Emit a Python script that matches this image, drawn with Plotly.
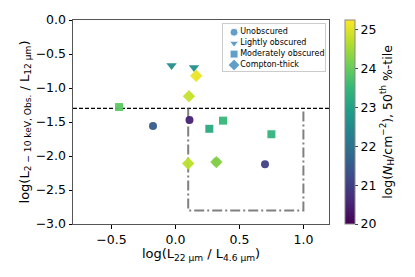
import plotly.graph_objects as go

# ---- data ----
unob_x = [-0.175, 0.11, 0.70, 0.32]
unob_y = [-1.56, -1.47, -2.12, -2.09]
unob_nh = [21.5, 20.5, 21.0, 21.5]

light_x = [-0.03, 0.145]
light_y = [-0.67, -0.70]
light_nh = [22.6, 22.6]

mod_x = [-0.44, 0.265, 0.372, 0.75]
mod_y = [-1.28, -1.60, -1.48, -1.68]
mod_nh = [23.9, 23.2, 23.5, 23.4]

ct_x = [0.163, 0.106, 0.10, 0.32]
ct_y = [-0.82, -1.12, -2.11, -2.09]
ct_nh = [25.1, 24.8, 24.7, 24.3]

hline_x = [-0.8, 1.2]
hline_y = [-1.3, -1.3]
box_x = [0.1, 0.1, 1.0, 1.0]
box_y = [-1.3, -2.8, -2.8, -1.3]

x_ticks = [-0.5, 0.0, 0.5, 1.0]
y_ticks = [0.0, -0.5, -1.0, -1.5, -2.0, -2.5, -3.0]
cb_ticks = [20, 21, 22, 23, 24, 25]
cmin, cmax = 20, 25.25

legend_names = ["Unobscured", "Lightly obscured", "Moderately obscured", "Compton-thick"]
legend_symbols = ["circle", "triangle-down", "square", "diamond"]

font = "DejaVu Sans"
fig = go.Figure()

fig.add_trace(go.Scatter(x=hline_x, y=hline_y, mode="lines",
                         line=dict(color="black", dash="4px,2px", width=1.3),
                         showlegend=False, hoverinfo="skip"))
fig.add_trace(go.Scatter(x=box_x, y=box_y, mode="lines",
                         line=dict(color="gray", dash="10px,3px,2px,3px", width=2),
                         showlegend=False, hoverinfo="skip"))

def add_group(xs, ys, cs, symbol, size, show_cb=False):
    marker = dict(symbol=symbol, size=size, color=cs, colorscale="Viridis",
                  cmin=cmin, cmax=cmax, opacity=0.95, line=dict(width=0))
    if show_cb:
        marker["colorbar"] = dict(
            x=1.063, xanchor="left", xpad=0, ypad=0,
            y=0, yanchor="bottom", len=1, lenmode="fraction",
            thickness=10, outlinewidth=1, outlinecolor="#888",
            tickvals=cb_ticks, ticks="outside", ticklen=3,
            tickfont=dict(family=font, size=12.5, color="black"),
            title=dict(text="log(<i>N</i><sub>H</sub>/cm<sup>−2</sup>), 50<sup>th</sup> %-tile",
                       side="right", font=dict(family=font, size=12.5, color="black")))
        marker["showscale"] = True
    fig.add_trace(go.Scatter(x=xs, y=ys, mode="markers", marker=marker,
                             showlegend=False))

add_group(unob_x, unob_y, unob_nh, "circle", 8)
add_group(light_x, light_y, light_nh, "triangle-down", 9)
add_group(mod_x, mod_y, mod_nh, "square", 8)
add_group(ct_x, ct_y, ct_nh, "diamond", 9.5, show_cb=True)

# custom compact legend on an overlay axis
n = len(legend_names)
leg_y = [i + 0.5 for i in range(n)]
fig.add_trace(go.Scatter(x=[0.11] * n, y=leg_y, mode="markers",
                         marker=dict(symbol=legend_symbols, size=[8, 8, 8, 9], color="#1f77b4"),
                         xaxis="x2", yaxis="y2", showlegend=False, hoverinfo="skip"))
fig.add_trace(go.Scatter(x=[0.17] * n, y=leg_y, mode="text", text=legend_names,
                         textposition="middle right",
                         textfont=dict(family=font, size=8, color="black"),
                         xaxis="x2", yaxis="y2", showlegend=False, hoverinfo="skip"))

axis_common = dict(showline=True, linecolor="#555", linewidth=1, mirror=True,
                   showgrid=False, zeroline=False, ticks="outside", ticklen=3.5,
                   tickcolor="black", automargin=False,
                   tickfont=dict(family=font, size=12.5, color="black"))

# page body adds an 8px offset, so the figure is 8px smaller and margins compensate
fig.update_layout(
    width=407, height=269,
    margin=dict(l=65, r=85.5, t=12, b=53),
    plot_bgcolor="white", paper_bgcolor="white",
    showlegend=False,
    xaxis=dict(range=[-0.8, 1.2], tickvals=x_ticks, tickformat=".1f",
               title=dict(text="log(L<sub>22 μm</sub> / L<sub>4.6 μm</sub>)", standoff=2,
                          font=dict(family=font, size=13, color="black")),
               **axis_common),
    yaxis=dict(range=[-3.0, 0.0], tickvals=y_ticks, tickformat=".1f",
               title=dict(text="log(L<sub>2 − 10 keV, Obs.</sub> / L<sub>12 μm</sub>)", standoff=3,
                          font=dict(family=font, size=13, color="black")),
               **axis_common),
    xaxis2=dict(domain=[0.585, 0.986], range=[0, 1], anchor="y2",
                showline=True, mirror=True, linecolor="#ccc", linewidth=1,
                showgrid=False, zeroline=False, showticklabels=False, ticks=""),
    yaxis2=dict(domain=[0.75, 0.98], range=[n + 0.05, -0.25], anchor="x2",
                showline=True, mirror=True, linecolor="#ccc", linewidth=1,
                showgrid=False, zeroline=False, showticklabels=False, ticks=""),
    font=dict(family=font),
)

fig.write_html("out.html")
